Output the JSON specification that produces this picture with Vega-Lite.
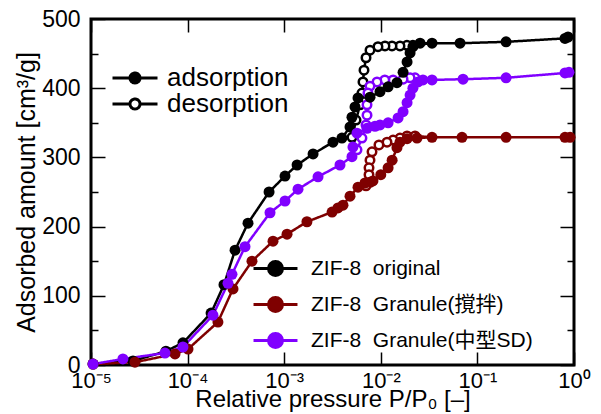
{
  "$schema": "https://vega.github.io/schema/vega-lite/v6.json",
  "width": 483,
  "height": 346,
  "autosize": {"type": "none"},
  "padding": {"left": 91, "top": 19, "right": 27, "bottom": 49},
  "background": "white",
  "config": {
    "font": "Liberation Sans",
    "view": {"stroke": "black", "strokeWidth": 3},
    "axis": {
      "domain": false, "grid": false,
      "labelFont": "Liberation Sans", "labelFontSize": 23, "labelColor": "black",
      "titleFont": "Liberation Sans", "titleFontSize": 24, "titleFontWeight": "normal", "titleColor": "black",
      "tickColor": "black", "tickWidth": 1.5
    },
    "legend": {
      "title": null, "padding": 0, "labelLimit": 400,
      "labelFont": "Liberation Sans, Noto Sans CJK JP", "labelColor": "black"
    }
  },
  "datasets": {
    "iso": [
      {"s": "ZIF-8 original", "b": "adsorption", "k": 1, "x": 1.05e-5, "y": 1.4},
      {"s": "ZIF-8 original", "b": "adsorption", "k": 2, "x": 2.72e-5, "y": 5.8},
      {"s": "ZIF-8 original", "b": "adsorption", "k": 3, "x": 5.97e-5, "y": 20},
      {"s": "ZIF-8 original", "b": "adsorption", "k": 4, "x": 8.95e-5, "y": 32},
      {"s": "ZIF-8 original", "b": "adsorption", "k": 5, "x": 1.75e-4, "y": 75},
      {"s": "ZIF-8 original", "b": "adsorption", "k": 6, "x": 2.38e-4, "y": 116},
      {"s": "ZIF-8 original", "b": "adsorption", "k": 7, "x": 3.10e-4, "y": 166},
      {"s": "ZIF-8 original", "b": "adsorption", "k": 8, "x": 4.22e-4, "y": 205},
      {"s": "ZIF-8 original", "b": "adsorption", "k": 9, "x": 6.97e-4, "y": 250},
      {"s": "ZIF-8 original", "b": "adsorption", "k": 10, "x": 1.02e-3, "y": 273},
      {"s": "ZIF-8 original", "b": "adsorption", "k": 11, "x": 1.36e-3, "y": 289},
      {"s": "ZIF-8 original", "b": "adsorption", "k": 12, "x": 1.99e-3, "y": 305},
      {"s": "ZIF-8 original", "b": "adsorption", "k": 13, "x": 3.20e-3, "y": 322},
      {"s": "ZIF-8 original", "b": "adsorption", "k": 14, "x": 3.96e-3, "y": 328},
      {"s": "ZIF-8 original", "b": "adsorption", "k": 15, "x": 4.80e-3, "y": 344},
      {"s": "ZIF-8 original", "b": "adsorption", "k": 16, "x": 5.03e-3, "y": 358},
      {"s": "ZIF-8 original", "b": "adsorption", "k": 17, "x": 5.41e-3, "y": 373},
      {"s": "ZIF-8 original", "b": "adsorption", "k": 18, "x": 5.81e-3, "y": 386},
      {"s": "ZIF-8 original", "b": "adsorption", "k": 19, "x": 7.73e-3, "y": 387},
      {"s": "ZIF-8 original", "b": "adsorption", "k": 20, "x": 9.81e-3, "y": 395},
      {"s": "ZIF-8 original", "b": "adsorption", "k": 21, "x": 1.19e-2, "y": 402},
      {"s": "ZIF-8 original", "b": "adsorption", "k": 22, "x": 1.47e-2, "y": 408},
      {"s": "ZIF-8 original", "b": "adsorption", "k": 23, "x": 1.70e-2, "y": 423},
      {"s": "ZIF-8 original", "b": "adsorption", "k": 24, "x": 1.87e-2, "y": 438},
      {"s": "ZIF-8 original", "b": "adsorption", "k": 25, "x": 2.01e-2, "y": 451},
      {"s": "ZIF-8 original", "b": "adsorption", "k": 26, "x": 2.15e-2, "y": 460},
      {"s": "ZIF-8 original", "b": "adsorption", "k": 27, "x": 2.55e-2, "y": 465},
      {"s": "ZIF-8 original", "b": "adsorption", "k": 28, "x": 3.39e-2, "y": 465},
      {"s": "ZIF-8 original", "b": "adsorption", "k": 29, "x": 6.61e-2, "y": 465},
      {"s": "ZIF-8 original", "b": "adsorption", "k": 30, "x": 0.198, "y": 467},
      {"s": "ZIF-8 original", "b": "adsorption", "k": 31, "x": 0.807, "y": 472},
      {"s": "ZIF-8 original", "b": "adsorption", "k": 32, "x": 0.867, "y": 474},
      {"s": "ZIF-8 original", "b": "desorption", "k": 0, "x": 3.39e-2, "y": 465},
      {"s": "ZIF-8 original", "b": "desorption", "k": 1, "x": 0.0215, "y": 462},
      {"s": "ZIF-8 original", "b": "desorption", "k": 2, "x": 0.01866, "y": 462},
      {"s": "ZIF-8 original", "b": "desorption", "k": 3, "x": 0.0158, "y": 461},
      {"s": "ZIF-8 original", "b": "desorption", "k": 4, "x": 0.01306, "y": 461},
      {"s": "ZIF-8 original", "b": "desorption", "k": 5, "x": 0.01105, "y": 461},
      {"s": "ZIF-8 original", "b": "desorption", "k": 6, "x": 0.00935, "y": 460},
      {"s": "ZIF-8 original", "b": "desorption", "k": 7, "x": 0.00773, "y": 455},
      {"s": "ZIF-8 original", "b": "desorption", "k": 8, "x": 0.00703, "y": 444},
      {"s": "ZIF-8 original", "b": "desorption", "k": 9, "x": 0.0067, "y": 426},
      {"s": "ZIF-8 original", "b": "desorption", "k": 10, "x": 0.00654, "y": 409},
      {"s": "ZIF-8 original", "b": "desorption", "k": 11, "x": 0.00638, "y": 393},
      {"s": "ZIF-8 original", "b": "desorption", "k": 12, "x": 0.00609, "y": 376},
      {"s": "ZIF-8 original", "b": "desorption", "k": 13, "x": 0.00554, "y": 354},
      {"s": "ZIF-8 original", "b": "desorption", "k": 14, "x": 0.00503, "y": 329},

      {"s": "ZIF-8 Granule(撹拌)", "b": "adsorption", "k": 1, "x": 1.05e-5, "y": 1.4},
      {"s": "ZIF-8 Granule(撹拌)", "b": "adsorption", "k": 2, "x": 2.85e-5, "y": 4},
      {"s": "ZIF-8 Granule(撹拌)", "b": "adsorption", "k": 3, "x": 7.41e-5, "y": 16},
      {"s": "ZIF-8 Granule(撹拌)", "b": "adsorption", "k": 4, "x": 1.01e-4, "y": 23},
      {"s": "ZIF-8 Granule(撹拌)", "b": "adsorption", "k": 5, "x": 2.06e-4, "y": 62},
      {"s": "ZIF-8 Granule(撹拌)", "b": "adsorption", "k": 6, "x": 2.95e-4, "y": 110},
      {"s": "ZIF-8 Granule(撹拌)", "b": "adsorption", "k": 7, "x": 4.64e-4, "y": 150},
      {"s": "ZIF-8 Granule(撹拌)", "b": "adsorption", "k": 8, "x": 7.66e-4, "y": 179},
      {"s": "ZIF-8 Granule(撹拌)", "b": "adsorption", "k": 9, "x": 1.07e-3, "y": 189},
      {"s": "ZIF-8 Granule(撹拌)", "b": "adsorption", "k": 10, "x": 1.72e-3, "y": 207},
      {"s": "ZIF-8 Granule(撹拌)", "b": "adsorption", "k": 11, "x": 3.13e-3, "y": 221},
      {"s": "ZIF-8 Granule(撹拌)", "b": "adsorption", "k": 12, "x": 3.60e-3, "y": 227},
      {"s": "ZIF-8 Granule(撹拌)", "b": "adsorption", "k": 13, "x": 4.06e-3, "y": 231},
      {"s": "ZIF-8 Granule(撹拌)", "b": "adsorption", "k": 14, "x": 4.80e-3, "y": 244},
      {"s": "ZIF-8 Granule(撹拌)", "b": "adsorption", "k": 15, "x": 5.81e-3, "y": 257},
      {"s": "ZIF-8 Granule(撹拌)", "b": "adsorption", "k": 16, "x": 6.86e-3, "y": 263},
      {"s": "ZIF-8 Granule(撹拌)", "b": "adsorption", "k": 17, "x": 8.29e-3, "y": 266},
      {"s": "ZIF-8 Granule(撹拌)", "b": "adsorption", "k": 18, "x": 1.0e-2, "y": 275},
      {"s": "ZIF-8 Granule(撹拌)", "b": "adsorption", "k": 19, "x": 1.19e-2, "y": 285},
      {"s": "ZIF-8 Granule(撹拌)", "b": "adsorption", "k": 20, "x": 1.31e-2, "y": 296},
      {"s": "ZIF-8 Granule(撹拌)", "b": "adsorption", "k": 21, "x": 1.47e-2, "y": 314},
      {"s": "ZIF-8 Granule(撹拌)", "b": "adsorption", "k": 22, "x": 1.58e-2, "y": 322},
      {"s": "ZIF-8 Granule(撹拌)", "b": "adsorption", "k": 23, "x": 1.87e-2, "y": 327},
      {"s": "ZIF-8 Granule(撹拌)", "b": "adsorption", "k": 24, "x": 2.37e-2, "y": 328},
      {"s": "ZIF-8 Granule(撹拌)", "b": "adsorption", "k": 25, "x": 3.39e-2, "y": 329},
      {"s": "ZIF-8 Granule(撹拌)", "b": "adsorption", "k": 26, "x": 6.93e-2, "y": 329},
      {"s": "ZIF-8 Granule(撹拌)", "b": "adsorption", "k": 27, "x": 0.198, "y": 329},
      {"s": "ZIF-8 Granule(撹拌)", "b": "adsorption", "k": 28, "x": 0.807, "y": 329},
      {"s": "ZIF-8 Granule(撹拌)", "b": "adsorption", "k": 29, "x": 0.91, "y": 329},
      {"s": "ZIF-8 Granule(撹拌)", "b": "desorption", "k": 0, "x": 3.39e-2, "y": 329},
      {"s": "ZIF-8 Granule(撹拌)", "b": "desorption", "k": 1, "x": 0.0226, "y": 331},
      {"s": "ZIF-8 Granule(撹拌)", "b": "desorption", "k": 2, "x": 0.0187, "y": 331},
      {"s": "ZIF-8 Granule(撹拌)", "b": "desorption", "k": 3, "x": 0.0158, "y": 328},
      {"s": "ZIF-8 Granule(撹拌)", "b": "desorption", "k": 4, "x": 0.0134, "y": 325},
      {"s": "ZIF-8 Granule(撹拌)", "b": "desorption", "k": 5, "x": 0.0116, "y": 322},
      {"s": "ZIF-8 Granule(撹拌)", "b": "desorption", "k": 6, "x": 0.00957, "y": 318},
      {"s": "ZIF-8 Granule(撹拌)", "b": "desorption", "k": 7, "x": 0.00811, "y": 308},
      {"s": "ZIF-8 Granule(撹拌)", "b": "desorption", "k": 8, "x": 0.00773, "y": 296},
      {"s": "ZIF-8 Granule(撹拌)", "b": "desorption", "k": 9, "x": 0.00755, "y": 285},
      {"s": "ZIF-8 Granule(撹拌)", "b": "desorption", "k": 10, "x": 0.00755, "y": 275},
      {"s": "ZIF-8 Granule(撹拌)", "b": "desorption", "k": 11, "x": 0.00773, "y": 264},
      {"s": "ZIF-8 Granule(撹拌)", "b": "desorption", "k": 12, "x": 0.00703, "y": 259},

      {"s": "ZIF-8 Granule(中型SD)", "b": "adsorption", "k": 1, "x": 1.05e-5, "y": 1.4},
      {"s": "ZIF-8 Granule(中型SD)", "b": "adsorption", "k": 2, "x": 2.14e-5, "y": 8.7},
      {"s": "ZIF-8 Granule(中型SD)", "b": "adsorption", "k": 3, "x": 5.83e-5, "y": 17.3},
      {"s": "ZIF-8 Granule(中型SD)", "b": "adsorption", "k": 4, "x": 8.95e-5, "y": 26},
      {"s": "ZIF-8 Granule(中型SD)", "b": "adsorption", "k": 5, "x": 1.83e-4, "y": 72},
      {"s": "ZIF-8 Granule(中型SD)", "b": "adsorption", "k": 6, "x": 2.62e-4, "y": 118},
      {"s": "ZIF-8 Granule(中型SD)", "b": "adsorption", "k": 7, "x": 2.88e-4, "y": 131},
      {"s": "ZIF-8 Granule(中型SD)", "b": "adsorption", "k": 8, "x": 3.93e-4, "y": 171},
      {"s": "ZIF-8 Granule(中型SD)", "b": "adsorption", "k": 9, "x": 7.13e-4, "y": 220},
      {"s": "ZIF-8 Granule(中型SD)", "b": "adsorption", "k": 10, "x": 1.02e-3, "y": 237},
      {"s": "ZIF-8 Granule(中型SD)", "b": "adsorption", "k": 11, "x": 1.39e-3, "y": 254},
      {"s": "ZIF-8 Granule(中型SD)", "b": "adsorption", "k": 12, "x": 2.24e-3, "y": 272},
      {"s": "ZIF-8 Granule(中型SD)", "b": "adsorption", "k": 13, "x": 3.78e-3, "y": 289},
      {"s": "ZIF-8 Granule(中型SD)", "b": "adsorption", "k": 14, "x": 5.03e-3, "y": 301},
      {"s": "ZIF-8 Granule(中型SD)", "b": "adsorption", "k": 15, "x": 5.15e-3, "y": 315},
      {"s": "ZIF-8 Granule(中型SD)", "b": "adsorption", "k": 16, "x": 5.67e-3, "y": 335},
      {"s": "ZIF-8 Granule(中型SD)", "b": "adsorption", "k": 17, "x": 7.20e-3, "y": 342},
      {"s": "ZIF-8 Granule(中型SD)", "b": "adsorption", "k": 18, "x": 8.71e-3, "y": 345},
      {"s": "ZIF-8 Granule(中型SD)", "b": "adsorption", "k": 19, "x": 9.81e-3, "y": 347},
      {"s": "ZIF-8 Granule(中型SD)", "b": "adsorption", "k": 20, "x": 1.19e-2, "y": 350},
      {"s": "ZIF-8 Granule(中型SD)", "b": "adsorption", "k": 21, "x": 1.51e-2, "y": 357},
      {"s": "ZIF-8 Granule(中型SD)", "b": "adsorption", "k": 22, "x": 1.70e-2, "y": 366},
      {"s": "ZIF-8 Granule(中型SD)", "b": "adsorption", "k": 23, "x": 1.87e-2, "y": 379},
      {"s": "ZIF-8 Granule(中型SD)", "b": "adsorption", "k": 24, "x": 2.01e-2, "y": 390},
      {"s": "ZIF-8 Granule(中型SD)", "b": "adsorption", "k": 25, "x": 2.15e-2, "y": 400},
      {"s": "ZIF-8 Granule(中型SD)", "b": "adsorption", "k": 26, "x": 2.43e-2, "y": 409},
      {"s": "ZIF-8 Granule(中型SD)", "b": "adsorption", "k": 27, "x": 2.73e-2, "y": 412},
      {"s": "ZIF-8 Granule(中型SD)", "b": "adsorption", "k": 28, "x": 3.39e-2, "y": 412},
      {"s": "ZIF-8 Granule(中型SD)", "b": "adsorption", "k": 29, "x": 7.10e-2, "y": 413},
      {"s": "ZIF-8 Granule(中型SD)", "b": "adsorption", "k": 30, "x": 0.198, "y": 415},
      {"s": "ZIF-8 Granule(中型SD)", "b": "adsorption", "k": 31, "x": 0.807, "y": 422},
      {"s": "ZIF-8 Granule(中型SD)", "b": "adsorption", "k": 32, "x": 0.887, "y": 423},
      {"s": "ZIF-8 Granule(中型SD)", "b": "desorption", "k": 0, "x": 3.39e-2, "y": 412},
      {"s": "ZIF-8 Granule(中型SD)", "b": "desorption", "k": 1, "x": 0.0226, "y": 415},
      {"s": "ZIF-8 Granule(中型SD)", "b": "desorption", "k": 2, "x": 0.0201, "y": 415},
      {"s": "ZIF-8 Granule(中型SD)", "b": "desorption", "k": 3, "x": 0.017, "y": 413},
      {"s": "ZIF-8 Granule(中型SD)", "b": "desorption", "k": 4, "x": 0.0134, "y": 412},
      {"s": "ZIF-8 Granule(中型SD)", "b": "desorption", "k": 5, "x": 0.011, "y": 412},
      {"s": "ZIF-8 Granule(中型SD)", "b": "desorption", "k": 6, "x": 0.00914, "y": 409},
      {"s": "ZIF-8 Granule(中型SD)", "b": "desorption", "k": 7, "x": 0.00773, "y": 403},
      {"s": "ZIF-8 Granule(中型SD)", "b": "desorption", "k": 8, "x": 0.00736, "y": 393},
      {"s": "ZIF-8 Granule(中型SD)", "b": "desorption", "k": 9, "x": 0.0072, "y": 376},
      {"s": "ZIF-8 Granule(中型SD)", "b": "desorption", "k": 10, "x": 0.0072, "y": 361},
      {"s": "ZIF-8 Granule(中型SD)", "b": "desorption", "k": 11, "x": 0.00703, "y": 347},
      {"s": "ZIF-8 Granule(中型SD)", "b": "desorption", "k": 12, "x": 0.00638, "y": 328},
      {"s": "ZIF-8 Granule(中型SD)", "b": "desorption", "k": 13, "x": 0.00567, "y": 311}
    ]
  },
  "data": {"name": "iso"},
  "layer": [
    {
      "mark": {"type": "line", "strokeWidth": 2.5},
      "encoding": {
        "x": {
          "field": "x", "type": "quantitative",
          "scale": {"type": "log", "domain": [1e-5, 1], "nice": false},
          "axis": {
            "orient": "bottom",
            "values": [1e-5, 1e-4, 1e-3, 1e-2, 1e-1, 1],
            "labelExpr": "['10⁰','10⁻¹','10⁻²','10⁻³','10⁻⁴','10⁻⁵'][round(-log(datum.value)/LN10)]",
            "tickSize": -13,
            "labelPadding": 18,
            "labelFontSize": 22,
            "labelFlush": false,
            "labelOverlap": false,
            "title": "Relative pressure P/P₀ [–]",
            "titlePadding": -4
          }
        },
        "y": {
          "field": "y", "type": "quantitative",
          "scale": {"domain": [0, 500], "nice": false},
          "axis": {
            "orient": "left",
            "values": [0, 50, 100, 150, 200, 250, 300, 350, 400, 450, 500],
            "labelExpr": "datum.value % 100 === 0 ? datum.label : ''",
            "tickSize": {"condition": {"test": "datum.value % 100 === 0", "value": -14}, "value": -7},
            "labelPadding": 25,
            "labelFlush": false,
            "labelOverlap": false,
            "title": "Adsorbed amount [cm³/g]",
            "titleFontSize": 25,
            "titlePadding": 2
          }
        },
        "color": {
          "field": "s", "type": "nominal",
          "scale": {
            "domain": ["ZIF-8 original", "ZIF-8 Granule(撹拌)", "ZIF-8 Granule(中型SD)"],
            "range": ["#000000", "#7f0000", "#8000ff"]
          },
          "legend": {
            "orient": "none", "legendX": 174, "legendY": 239,
            "symbolType": "M-3.14,0H-1M1,0H3.14M-1,0A1,1,0,1,1,1,0A1,1,0,1,1,-1,0",
            "symbolSize": 196,
            "symbolStrokeWidth": 3,
            "labelFontSize": 21,
            "labelOffset": 25,
            "rowPadding": 9,
            "labelExpr": "replace(datum.label, ' ', '\u00a0\u00a0')",
            "encode": {
              "symbols": {
                "update": {
                  "fill": {"signal": "scale('color', datum.value)"},
                  "stroke": {"signal": "scale('color', datum.value)"},
                  "opacity": {"value": 1}
                }
              }
            }
          }
        },
        "strokeDash": {
          "field": "b", "type": "nominal",
          "scale": {"domain": ["adsorption", "desorption"], "range": [[1, 0], [1, 0]]},
          "legend": {
            "orient": "none", "legendX": 31, "legendY": 46,
            "symbolType": "M-4.5,0H-1M1,0H4.5M-1,0A1,1,0,1,1,1,0A1,1,0,1,1,-1,0",
            "symbolSize": 100,
            "symbolStrokeWidth": 3,
            "labelFontSize": 26,
            "labelOffset": 19,
            "rowPadding": -1,
            "encode": {
              "symbols": {
                "update": {
                  "fill": {"signal": "datum.value === 'adsorption' ? 'black' : 'white'"},
                  "stroke": {"value": "black"},
                  "opacity": {"value": 1}
                }
              }
            }
          }
        },
        "order": {"field": "k", "type": "quantitative"}
      }
    },
    {
      "transform": [{"filter": "datum.b === 'desorption' && datum.k > 0"}],
      "mark": {"type": "point", "shape": "circle", "filled": false, "fill": "white", "fillOpacity": 1, "size": 72, "strokeWidth": 2.5, "opacity": 1},
      "encoding": {
        "x": {"field": "x", "type": "quantitative", "axis": null},
        "y": {"field": "y", "type": "quantitative", "axis": null},
        "color": {"field": "s", "type": "nominal"}
      }
    },
    {
      "transform": [{"filter": "datum.b === 'adsorption'"}],
      "mark": {"type": "point", "shape": "circle", "filled": true, "size": 121, "opacity": 1},
      "encoding": {
        "x": {
          "field": "x", "type": "quantitative",
          "axis": {"orient": "top", "values": [1e-5, 1e-4, 1e-3, 1e-2, 1e-1, 1], "labels": false, "tickSize": -13, "title": null}
        },
        "y": {
          "field": "y", "type": "quantitative",
          "axis": {
            "orient": "right",
            "values": [0, 50, 100, 150, 200, 250, 300, 350, 400, 450, 500],
            "labels": false,
            "tickSize": {"condition": {"test": "datum.value % 100 === 0", "value": -14}, "value": -7},
            "title": null
          }
        },
        "color": {"field": "s", "type": "nominal"}
      }
    }
  ],
  "resolve": {"axis": {"x": "independent", "y": "independent"}}
}
